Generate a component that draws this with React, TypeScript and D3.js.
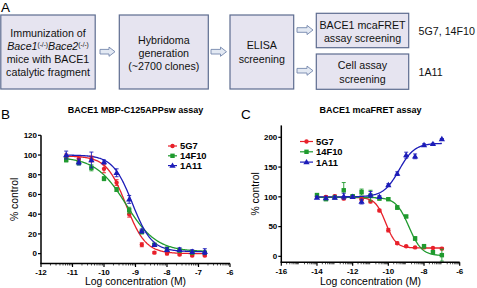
import React from "react";
import * as d3 from "d3";

// ---------- Panel B data ----------
const concB = [-11.2, -10.8, -10.4, -10.0, -9.6, -9.2, -8.8, -8.4, -8.0, -7.6, -7.2, -6.8];
const b5G7 = [98, 96, 96, 86, 72, 40, 9, 1, 0, -1, -2, -2];
const b5G7Err = [3, 2, 3, 4, 3, 3, 2, 1, 1, 1, 1, 1];
const b14F10 = [95, 92, 87, 76, 65, 44, 22, 9, 5, 3, 1, 1];
const b14F10Err = [2, 2, 3, 2, 2, 3, 2, 1, 1, 1, 1, 1];
const b1A11 = [100, 93, 95, 93, 82, 55, 23, 9, 4, 4, 2, 2];
const b1A11Err = [4, 3, 8, 2, 4, 4, 2, 1, 2, 2, 2, 3];
// fit params: [value at low conc, value at high conc, logX50, hill]
const fitB5G7 = [99, 0, -9.3, 1.4];
const fitB14F10 = [98, 2, -9.3, 0.9];
const fitB1A11 = [100, 2, -9.1, 1.4];
const yTicksB = [0, 20, 40, 60, 80, 100, 120];
const xTicksB = [-12, -11, -10, -9, -8, -7, -6];

// ---------- Panel C data ----------
const concC = [-14, -13.5, -13, -12.5, -12, -11.5, -11, -10.5, -10, -9.5, -9, -8.5, -8, -7.5, -7];
const c5G7 = [100, 100, 101, 97, 100, 96, 92, 77, 44, 22, 17, 15, 15, 14, 13];
const c5G7Err = [2, 2, 2, 2, 2, 2, 2, 2, 3, 2, 1, 1, 1, 1, 2];
const c14F10 = [103, 96, 99, 111, 101, 108, 102, 97, 96, 82, 67, 30, 17, 7, 2];
const c14F10Err = [2, 2, 2, 13, 2, 5, 9, 2, 2, 3, 2, 3, 3, 2, 10];
const c1A11 = [99, 98, 99, 101, 100, 92, 104, 100, 120, 139, 170, 168, 187, 189, 197];
const c1A11Err = [2, 2, 2, 5, 2, 4, 5, 2, 2, 3, 5, 4, 2, 1, 1];
const fitC5G7 = [99, 14, -10.15, 1.5];
const fitC14F10 = [99, 1, -8.85, 1.2];
const fitC1A11 = [100, 190, -9.4, 1.0];
const yTicksC = [0, 50, 100, 150, 200];
const xTicksC = [-16, -14, -12, -10, -8, -6];

const seriesNames = ["5G7", "14F10", "1A11"];
const seriesColors = ["#e8202a", "#1f9a2e", "#1c1cb8"];
const seriesShapes = ["circle", "square", "triangle"];

const FONT = "'Liberation Sans', Arial, Helvetica, sans-serif";

function fit(x: number, p: number[]) {
  const [low, high, c, h] = p;
  return high + (low - high) / (1 + Math.pow(10, (x - c) * h));
}

function Marker({ x, y, shape, color }: any) {
  if (shape === "circle") return <circle cx={x} cy={y} r={2.2} fill={color} />;
  if (shape === "square") return <rect x={x - 2.2} y={y - 2.2} width={4.4} height={4.4} fill={color} />;
  const p = d3.symbol().type(d3.symbolTriangle).size(17)() as string;
  return <path d={p} transform={`translate(${x},${y + 0.4})`} fill={color} />;
}

function Panel({ x0, x1, y0, y1, xDom, yDom, xTicks, yTicks, conc, vals, errs, fits, title, letter, letterX, legendX, legendY, legendStep, legendLen, yLabelX }: any) {
  const xs = d3.scaleLinear().domain(xDom).range([x0, x1]);
  const ys = d3.scaleLinear().domain(yDom).range([y0, y1]);
  const minor: number[] = [];
  for (let n = xDom[0]; n < xDom[1]; n++) {
    for (let k = 2; k <= 9; k++) minor.push(n + Math.log10(k));
  }
  const cx = (x0 + x1) / 2;
  return (
    <g fontFamily={FONT}>
      <text x={letterX} y={119} fontSize={13.5}>{letter}</text>
      <text x={cx} y={113} fontSize={9} fontWeight="bold" textAnchor="middle">{title}</text>
      {fits.map((p: number[], si: number) => {
        const xsSamp = d3.range(0, 201).map((i) => conc[0] + ((conc[conc.length - 1] - conc[0]) * i) / 200);
        const gen = d3.line<number>().x((d) => xs(d)).y((d) => ys(fit(d, p)));
        return <path key={si} d={gen(xsSamp) as string} fill="none" stroke={seriesColors[si]} strokeWidth={1.3} />;
      })}
      {vals.map((arr: number[], si: number) => (
        <g key={si}>
          {arr.map((v, i) => {
            const e = errs[si][i];
            const px = xs(conc[i]);
            return (
              <g key={i} stroke={seriesColors[si]} strokeWidth={0.9}>
                <line x1={px} x2={px} y1={ys(v - e)} y2={ys(v + e)} />
                <line x1={px - 2} x2={px + 2} y1={ys(v + e)} y2={ys(v + e)} />
                <line x1={px - 2} x2={px + 2} y1={ys(v - e)} y2={ys(v - e)} />
              </g>
            );
          })}
          {arr.map((v, i) => (
            <Marker key={"m" + i} x={xs(conc[i])} y={ys(v)} shape={seriesShapes[si]} color={seriesColors[si]} />
          ))}
        </g>
      ))}
      <line x1={x0} x2={x0} y1={ys(yDom[0])} y2={ys(yDom[1])} stroke="#000" strokeWidth={1.5} />
      <line x1={x0 - 0.75} x2={x1} y1={ys(yDom[0])} y2={ys(yDom[0])} stroke="#000" strokeWidth={1.5} />
      {yTicks.map((t: number) => (
        <g key={t}>
          <line x1={x0 - 3} x2={x0} y1={ys(t)} y2={ys(t)} stroke="#000" strokeWidth={1.2} />
          <text x={x0 - 4} y={ys(t) + 2.8} fontSize={8} fontWeight="bold" textAnchor="end">{t}</text>
        </g>
      ))}
      {minor.map((t, i) => (
        <line key={"mn" + i} x1={xs(t)} x2={xs(t)} y1={ys(yDom[0])} y2={ys(yDom[0]) + 2} stroke="#000" strokeWidth={0.7} />
      ))}
      {xTicks.map((t: number) => (
        <g key={t}>
          <line x1={xs(t)} x2={xs(t)} y1={ys(yDom[0])} y2={ys(yDom[0]) + 3.5} stroke="#000" strokeWidth={1.2} />
          <text x={xs(t)} y={ys(yDom[0]) + 11.5} fontSize={8} fontWeight="bold" textAnchor="middle">{t}</text>
        </g>
      ))}
      <text x={cx} y={284.5} fontSize={10.4} textAnchor="middle">Log concentration (M)</text>
      <text transform={`translate(${yLabelX},${(ys(yDom[0]) + ys(yDom[1])) / 2}) rotate(-90)`} fontSize={10.4} textAnchor="middle">% control</text>
      {seriesNames.map((n, si) => {
        const ly = legendY + si * legendStep;
        return (
          <g key={n}>
            <line x1={legendX} x2={legendX + legendLen} y1={ly} y2={ly} stroke={seriesColors[si]} strokeWidth={1.2} />
            <Marker x={legendX + legendLen / 2} y={ly} shape={seriesShapes[si]} color={seriesColors[si]} />
            <text x={legendX + legendLen + 3} y={ly + 3.4} fontSize={9.4} fontWeight="bold">{n}</text>
          </g>
        );
      })}
    </g>
  );
}

function Arrow({ x0, x1, cy }: any) {
  const d = `M${x0},${cy - 2.3} L${x1 - 6},${cy - 2.3} L${x1 - 6},${cy - 4.6} L${x1},${cy} L${x1 - 6},${cy + 4.6} L${x1 - 6},${cy + 2.3} L${x0},${cy + 2.3} Z`;
  return <path d={d} fill="#e3e9f3" stroke="#7487ad" strokeWidth={0.9} />;
}

function Box({ x, y, w, h }: any) {
  return <rect x={x} y={y} width={w} height={h} fill="#e6e4f0" stroke="#5d6c8f" strokeWidth={1.2} />;
}

export default function App() {
  const fs = 10.7;
  return (
    <svg width={477} height={288} style={{ position: "absolute", left: 0, top: 0, background: "#fff" }} fontFamily={FONT}>
      <text x={1} y={11.5} fontSize={13.5}>A</text>
      <Box x={0.8} y={15} w={94.4} h={74} />
      <g fontSize={fs} textAnchor="middle" fill="#111">
        <text x={48} y={37}>Immunization of</text>
        <text x={48} y={50}>
          <tspan fontStyle="italic">Bace1</tspan>
          <tspan fontSize={6.5} dy={-3.5}>(-/-)</tspan>
          <tspan fontStyle="italic" dy={3.5}>Bace2</tspan>
          <tspan fontSize={6.5} dy={-3.5}>(-/-)</tspan>
        </text>
        <text x={48} y={63}>mice with BACE1</text>
        <text x={48} y={76}>catalytic fragment</text>
      </g>
      <Arrow x0={100} x1={115} cy={51.7} />
      <Box x={119.3} y={15} w={89} h={74} />
      <g fontSize={fs} textAnchor="middle" fill="#111">
        <text x={163.8} y={44}>Hybridoma</text>
        <text x={163.8} y={57}>generation</text>
        <text x={163.8} y={70}>(~2700 clones)</text>
      </g>
      <Arrow x0={211} x1={226.5} cy={51.7} />
      <Box x={230} y={15} w={63.7} h={74} />
      <g fontSize={fs} textAnchor="middle" fill="#111">
        <text x={261.8} y={49}>ELISA</text>
        <text x={261.8} y={63}>screening</text>
      </g>
      <Arrow x0={297} x1={313} cy={30} />
      <Arrow x0={297} x1={313} cy={70.7} />
      <Box x={316.3} y={13.3} w={92.4} h={34.4} />
      <Box x={316.3} y={54} w={92.4} h={35.3} />
      <g fontSize={fs} textAnchor="middle" fill="#111">
        <text x={362.5} y={29}>BACE1 mcaFRET</text>
        <text x={362.5} y={41.5}>assay screening</text>
        <text x={362.5} y={69}>Cell assay</text>
        <text x={362.5} y={82.5}>screening</text>
      </g>
      <g fontSize={fs} fill="#111">
        <text x={418.5} y={35}>5G7, 14F10</text>
        <text x={418.5} y={76}>1A11</text>
      </g>

      <Panel
        x0={41} x1={230} y0={263.5} y1={135.3}
        xDom={[-12, -6]} yDom={[-10, 120]}
        xTicks={xTicksB} yTicks={yTicksB}
        conc={concB} vals={[b5G7, b14F10, b1A11]} errs={[b5G7Err, b14F10Err, b1A11Err]}
        fits={[fitB5G7, fitB14F10, fitB1A11]}
        title="BACE1 MBP-C125APPsw assay" letter="B" letterX={1}
        legendX={168} legendY={146} legendStep={9.8} legendLen={9} yLabelX={18}
      />
      <Panel
        x0={281.3} x1={459.7} y0={262.3} y1={125.4}
        xDom={[-16, -6]} yDom={[-10, 220]}
        xTicks={xTicksC} yTicks={yTicksC}
        conc={concC} vals={[c5G7, c14F10, c1A11]} errs={[c5G7Err, c14F10Err, c1A11Err]}
        fits={[fitC5G7, fitC14F10, fitC1A11]}
        title="BACE1 mcaFRET assay" letter="C" letterX={241}
        legendX={300} legendY={141.5} legendStep={10.3} legendLen={13} yLabelX={259}
      />
    </svg>
  );
}
